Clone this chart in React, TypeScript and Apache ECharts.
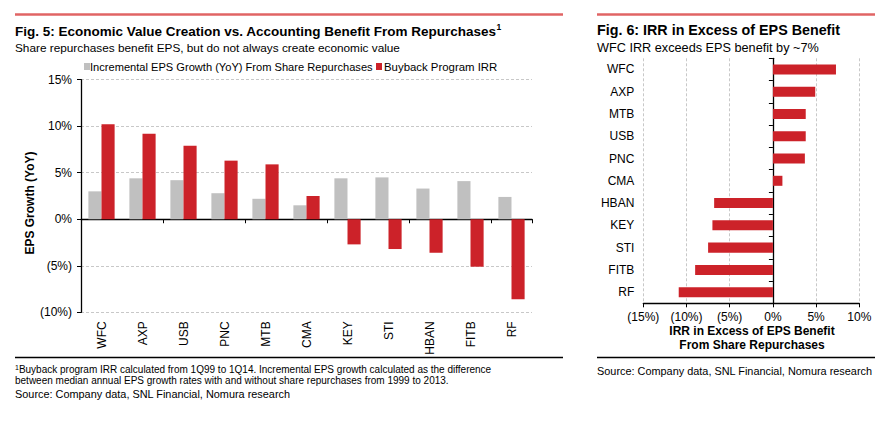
import React, { useEffect, useRef } from "react";
import * as echarts from "echarts";

// ---- Data: Fig. 5 ----
const banks = ["WFC", "AXP", "USB", "PNC", "MTB", "CMA", "KEY", "STI", "HBAN", "FITB", "RF"];
const epsGrowth = [3.0, 4.4, 4.2, 2.8, 2.2, 1.5, 4.4, 4.5, 3.3, 4.1, 2.4];
const buybackIrr = [10.2, 9.2, 7.9, 6.3, 5.9, 2.5, -2.7, -3.2, -3.6, -5.1, -8.6];
const leftYMin = -10;
const leftYMax = 15;
const leftYStep = 5;

// ---- Data: Fig. 6 ----
const excessBanks = ["WFC", "AXP", "MTB", "USB", "PNC", "CMA", "HBAN", "KEY", "STI", "FITB", "RF"];
const excessIrr = [7.3, 4.9, 3.8, 3.8, 3.7, 1.1, -6.8, -7.0, -7.5, -9.0, -10.9];
const rightXMin = -15;
const rightXMax = 10;
const rightXStep = 5;

const FONT = "'Liberation Sans', Arial, Helvetica, sans-serif";
const RED = "#cc2229";
const GRAY = "#c0c0c0";
const HEADER = "#e06464";
const GRID = "#c8c8c8";

const pct = (v: number) => (v < 0 ? `(${-v}%)` : `${v}%`);

export default function App() {
  const ref = useRef<HTMLDivElement>(null);
  useEffect(() => {
    if (!ref.current) return;
    const chart = echarts.init(ref.current, null, { renderer: "svg" });
    const axisLabelStyle = { color: "#000", fontSize: 12, fontFamily: FONT };
    const option: any = {
      animation: false,
      textStyle: { fontFamily: FONT, color: "#000" },
      grid: [
        { left: 81, right: 357, top: 79.7, bottom: 114.7, containLabel: false },
        { left: 643.3, right: 29.7, top: 58.3, bottom: 123.7, containLabel: false },
      ],
      xAxis: [
        {
          gridIndex: 0,
          type: "category",
          data: banks,
          position: "bottom",
          axisLine: { show: false, onZero: false },
          axisTick: { show: false },
          axisLabel: { ...axisLabelStyle, rotate: 90, margin: 9, interval: 0 },
        },
        {
          gridIndex: 0,
          type: "category",
          data: banks,
          position: "top",
          axisLine: { show: true, onZero: true, lineStyle: { color: "#000", width: 1.3 } },
          axisTick: { show: true, inside: true, length: 4, lineStyle: { color: "#000" } },
          axisLabel: { show: false },
        },
        {
          gridIndex: 1,
          type: "value",
          min: rightXMin,
          max: rightXMax,
          interval: rightXStep,
          axisLine: { show: true, onZero: false, lineStyle: { color: "#000", width: 1.3 } },
          axisTick: { show: true, length: 4, lineStyle: { color: "#000" } },
          axisLabel: { ...axisLabelStyle, margin: 8, formatter: pct },
          splitLine: { show: true, lineStyle: { color: GRID, type: [3, 2] } },
        },
      ],
      yAxis: [
        {
          gridIndex: 0,
          type: "value",
          min: leftYMin,
          max: leftYMax,
          interval: leftYStep,
          axisLine: { show: true, onZero: false, lineStyle: { color: "#000", width: 1.3 } },
          axisTick: { show: true, length: 4, lineStyle: { color: "#000" } },
          axisLabel: { ...axisLabelStyle, margin: 9, formatter: pct },
          splitLine: { show: true, lineStyle: { color: GRID, type: [3, 2] } },
        },
        {
          gridIndex: 1,
          type: "category",
          data: excessBanks,
          inverse: true,
          position: "left",
          axisLine: { show: false, onZero: false },
          axisTick: { show: false },
          axisLabel: { ...axisLabelStyle, margin: 9, interval: 0 },
        },
        {
          gridIndex: 1,
          type: "category",
          data: excessBanks,
          inverse: true,
          position: "right",
          axisLine: { show: true, onZero: true, lineStyle: { color: "#000", width: 1.3 } },
          axisTick: { show: true, inside: true, length: 4, lineStyle: { color: "#000" } },
          axisLabel: { show: false },
        },
      ],
      series: [
        {
          name: "Incremental EPS Growth (YoY) From Share Repurchases",
          type: "bar",
          xAxisIndex: 0,
          yAxisIndex: 0,
          data: epsGrowth,
          itemStyle: { color: GRAY },
          barGap: "0%",
          barCategoryGap: "36%",
        },
        {
          name: "Buyback Program IRR",
          type: "bar",
          xAxisIndex: 0,
          yAxisIndex: 0,
          data: buybackIrr,
          itemStyle: { color: RED },
          barGap: "0%",
          barCategoryGap: "36%",
        },
        {
          name: "IRR in Excess of EPS Benefit",
          type: "bar",
          xAxisIndex: 2,
          yAxisIndex: 1,
          data: excessIrr,
          itemStyle: { color: RED },
          barCategoryGap: "55%",
        },
      ],
      graphic: [
        // header lines
        { type: "line", shape: { x1: 15, y1: 14.5, x2: 563, y2: 14.5 }, style: { stroke: HEADER, lineWidth: 2.5 } },
        { type: "line", shape: { x1: 597, y1: 14.5, x2: 875, y2: 14.5 }, style: { stroke: HEADER, lineWidth: 2.5 } },
        // titles
        {
          type: "text",
          x: 15,
          y: 31,
          style: {
            text: "{t|Fig. 5: Economic Value Creation vs. Accounting Benefit From Repurchases}{s|1}",
            verticalAlign: "middle",
            rich: {
              t: { fontSize: 13.5, fontWeight: "bold", fontFamily: FONT, fill: "#000" },
              s: { fontSize: 8.5, fontWeight: "bold", fontFamily: FONT, fill: "#000", verticalAlign: "top", padding: [0, 0, 8, 0] },
            },
          },
        },
        {
          type: "text",
          x: 15,
          y: 48,
          style: { text: "Share repurchases benefit EPS, but do not always create economic value", font: `11.8px ${FONT}`, fill: "#000", verticalAlign: "middle" },
        },
        {
          type: "text",
          x: 597,
          y: 30,
          style: { text: "Fig. 6: IRR in Excess of EPS Benefit", font: `bold 14.3px ${FONT}`, fill: "#000", verticalAlign: "middle" },
        },
        {
          type: "text",
          x: 597,
          y: 48,
          style: { text: "WFC IRR exceeds EPS benefit by ~7%", font: `12.7px ${FONT}`, fill: "#000", verticalAlign: "middle" },
        },
        // legend
        { type: "rect", shape: { x: 84, y: 63, width: 6, height: 7 }, style: { fill: GRAY } },
        {
          type: "text",
          x: 90,
          y: 66.5,
          style: { text: "Incremental EPS Growth (YoY) From Share Repurchases", font: `11.1px ${FONT}`, fill: "#000", verticalAlign: "middle" },
        },
        { type: "rect", shape: { x: 376, y: 63, width: 6, height: 7 }, style: { fill: RED } },
        {
          type: "text",
          x: 384,
          y: 66.5,
          style: { text: "Buyback Program IRR", font: `11.4px ${FONT}`, fill: "#000", verticalAlign: "middle" },
        },
        // left y-axis name
        {
          type: "text",
          x: 30,
          y: 203,
          rotation: Math.PI / 2,
          style: { text: "EPS Growth (YoY)", font: `bold 12px ${FONT}`, fill: "#000", align: "center", verticalAlign: "middle" },
        },
        // right x-axis name
        {
          type: "text",
          x: 752,
          y: 338,
          style: {
            text: "IRR in Excess of EPS Benefit\nFrom Share Repurchases",
            font: `bold 12px ${FONT}`,
            fill: "#000",
            align: "center",
            verticalAlign: "middle",
            lineHeight: 14,
          },
        },
        // bottom lines
        { type: "line", shape: { x1: 15, y1: 357.5, x2: 563, y2: 357.5 }, style: { stroke: "#000", lineWidth: 1.5 } },
        { type: "line", shape: { x1: 597, y1: 357.5, x2: 875, y2: 357.5 }, style: { stroke: "#000", lineWidth: 1.5 } },
        // footnotes
        {
          type: "text",
          x: 15,
          y: 369.5,
          style: {
            text: "{s|1}{t|Buyback program IRR calculated from 1Q99 to 1Q14. Incremental EPS growth calculated as the difference}",
            verticalAlign: "middle",
            rich: {
              t: { fontSize: 10, fontFamily: FONT, fill: "#000" },
              s: { fontSize: 7, fontFamily: FONT, fill: "#000", verticalAlign: "top", padding: [0, 0, 5, 0] },
            },
          },
        },
        {
          type: "text",
          x: 15,
          y: 380.5,
          style: {
            text: "between median annual EPS growth rates with and without share repurchases from 1999 to 2013.",
            font: `10px ${FONT}`,
            fill: "#000",
            verticalAlign: "middle",
          },
        },
        {
          type: "text",
          x: 15,
          y: 393.5,
          style: { text: "Source: Company data, SNL Financial, Nomura research", font: `10.9px ${FONT}`, fill: "#000", verticalAlign: "middle" },
        },
        {
          type: "text",
          x: 597,
          y: 370.5,
          style: { text: "Source: Company data, SNL Financial, Nomura research", font: `10.9px ${FONT}`, fill: "#000", verticalAlign: "middle" },
        },
      ],
    };
    chart.setOption(option);
    return () => chart.dispose();
  }, []);
  return (
    <div
      ref={ref}
      style={{ position: "fixed", left: 0, top: 0, width: 889, height: 427, background: "#fff" }}
    />
  );
}
